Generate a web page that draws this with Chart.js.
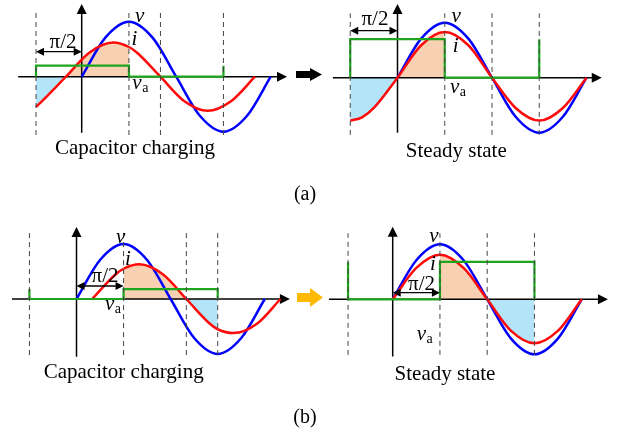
<!DOCTYPE html>
<html>
<head>
<meta charset="utf-8">
<script src="https://cdn.jsdelivr.net/npm/chart.js@4.4.0/dist/chart.umd.min.js"></script>
<style>
  body { margin: 0; background: #fff; }
  #fig { position: relative; width: 622px; height: 434px; overflow: hidden; }
  #fig canvas { position: absolute; }
  .cap { position: absolute; width: 40px; text-align: center; line-height: 21px;
         font: 20px "Liberation Serif", "Times New Roman", serif; color: #000; }
  .step { position: absolute; }
</style>
</head>
<body>
<div id="fig">
  <canvas id="p1"></canvas>
  <canvas id="p2"></canvas>
  <canvas id="p3"></canvas>
  <canvas id="p4"></canvas>
  <div class="step" style="left:296px;top:68px;width:26px;height:13px;background:#000;
       clip-path:polygon(0 3px,14px 3px,14px 0,26px 6.5px,14px 13px,14px 10px,0 10px);"></div>
  <div class="step" style="left:297px;top:288px;width:26px;height:19px;background:#ffb900;
       clip-path:polygon(0 5px,13px 5px,13px 0,26px 9.5px,13px 19px,13px 14px,0 14px);"></div>
  <div class="cap" style="left:285px;top:182px;">(a)</div>
  <div class="cap" style="left:285px;top:405px;">(b)</div>
</div>
<script>
// phase in degrees, amplitudes relative to the peak of v
const vPhase = [0, 45, 90, 135, 180, 225, 270, 315, 360];
const vVal = [0, 0.71, 1, 0.71, 0, -0.71, -1, -0.71, 0];

// (a) left: capacitor charging
const iPhase1 = [-87, -75, -30, 15, 60, 90, 105, 150, 195, 240, 285, 330];
const iVal1 = [-0.55, -0.44, 0, 0.44, 0.62, 0.54, 0.44, 0, -0.44, -0.62, -0.44, 0];
const vaPhase1 = [-87, -87, 90, 90, 270, 270];
const vaVal1 = [0, 0.2, 0.2, 0, 0, 0.2];
const marks1 = [-87, 90, 150, 270];

// (a) right: steady state
const iPhase2 = [-90, -67.5, -45, 0, 45, 90, 135, 180, 225, 270, 315, 360];
const iVal2 = [-0.78, -0.72, -0.55, 0, 0.59, 0.83, 0.59, 0, -0.55, -0.78, -0.55, 0];
const vaPhase2 = [-90, -90, 90, 90, 270, 270];
const vaVal2 = [0, 0.7, 0.7, 0, 0, 0.7];
const marks2 = [-90, 90, 180, 270];

// (b) left: capacitor charging
const iPhase3 = [30, 75, 90, 120, 165, 210, 255, 270, 300, 345, 390];
const iVal3 = [0, 0.45, 0.55, 0.63, 0.45, 0, -0.45, -0.55, -0.62, -0.45, 0];
const vaPhase3 = [-90, -90, 90, 90, 270, 270];
const vaVal3 = [0.18, 0, 0, 0.18, 0.18, 0];
const marks3 = [-90, 90, 210, 270];

// (b) right: steady state
const iPhase4 = [0, 45, 90, 135, 180, 225, 270, 315, 360];
const iVal4 = [0, 0.57, 0.81, 0.57, 0, -0.57, -0.8, -0.57, 0];
const vaPhase4 = [-85, -85, 90, 90, 270, 270];
const vaVal4 = [0.68, 0, 0, 0.68, 0.68, 0];
const marks4 = [-85, 90, 180, 270];

const BLUE = '#0000ff', RED = '#ff0a0a', GREEN = '#1ea51e';
const PEACH = 'rgb(248,208,178)', SKY = 'rgb(180,228,248)';
const SERIF = '"Liberation Serif", "Times New Roman", serif';

const panels = [
  { id: 'p1', left: 0, top: 0, width: 295, height: 170, ox: 81.7, oy: 76.7, kx: 0.525, ky: 55,
    iPhase: iPhase1, iVal: iVal1, vaPhase: vaPhase1, vaVal: vaVal1, marks: marks1,
    markSpan: [-1.06, 1.18], orange: [-30, 90], cyan: [-87, -30],
    xAxis: [-121, 391], yAxis: [-1.02, 1.32],
    halfPi: { from: -87, to: 0, y: 0.455, tx: -35.6, ty: 0.522 },
    vAt: [101.5, 1.0], iAt: [95, 0.576], vaAt: [96.4, -0.215],
    title: 'Capacitor charging', titleAt: [101.5, -1.405] },
  { id: 'p2', left: 295, top: 0, width: 327, height: 170, ox: 397.5, oy: 77.7, kx: 0.525, ky: 55,
    iPhase: iPhase2, iVal: iVal2, vaPhase: vaPhase2, vaVal: vaVal2, marks: marks2,
    markSpan: [-1.04, 1.17], orange: [0, 90], cyan: [-90, 0],
    xAxis: [-123, 389], yAxis: [-1.0, 1.34],
    halfPi: { from: -90, to: 0, y: 0.855, tx: -42.9, ty: 0.96 },
    vAt: [103, 1.02], iAt: [105, 0.47], vaAt: [100, -0.28],
    title: 'Steady state', titleAt: [112, -1.436] },
  { id: 'p3', left: 0, top: 215, width: 295, height: 180, ox: 76.5, oy: 299, kx: 0.523, ky: 55,
    iPhase: iPhase3, iVal: iVal3, vaPhase: vaPhase3, vaVal: vaVal3, marks: marks3,
    markSpan: [-1.02, 1.2], orange: [90, 210], cyan: [210, 270],
    xAxis: [-123.3, 408], yAxis: [-1.05, 1.31],
    halfPi: { from: 0, to: 90, y: 0.236, tx: 54.5, ty: 0.31 },
    vAt: [75.5, 1.02], iAt: [92.7, 0.62], vaAt: [54.5, -0.2],
    title: 'Capacitor charging', titleAt: [90.2, -1.44] },
  { id: 'p4', left: 295, top: 215, width: 327, height: 180, ox: 392.7, oy: 299.3, kx: 0.525, ky: 55,
    iPhase: iPhase4, iVal: iVal4, vaPhase: vaPhase4, vaVal: vaVal4, marks: marks4,
    markSpan: [-1.01, 1.2], orange: [90, 180], cyan: [180, 270],
    xAxis: [-121.3, 410], yAxis: [-1.04, 1.32],
    halfPi: { from: 0, to: 90, y: 0.12, tx: 55, ty: 0.17 },
    vAt: [69.7, 1.04], iAt: [71, 0.53], vaAt: [45.7, -0.74],
    title: 'Steady state', titleAt: [99.6, -1.467] }
];

function head(ctx, x, y, dx, dy, len, half) {
  ctx.beginPath();
  ctx.moveTo(x, y);
  ctx.lineTo(x - dx * len - dy * half, y - dy * len + dx * half);
  ctx.lineTo(x - dx * len + dy * half, y - dy * len - dx * half);
  ctx.closePath();
  ctx.fill();
}

function seg(ctx, x1, y1, x2, y2) {
  ctx.beginPath();
  ctx.moveTo(x1, y1);
  ctx.lineTo(x2, y2);
  ctx.stroke();
}

// axes with arrow heads, labels and the pi/2 marker
function makeSketch(p) {
  return {
    id: 'sketch',
    beforeDatasetsDraw(chart) {
      const { ctx, scales: { x, y } } = chart;
      const x0 = x.getPixelForValue(0), y0 = y.getPixelForValue(0);
      const xl = x.getPixelForValue(p.xAxis[0]), xr = x.getPixelForValue(p.xAxis[1]);
      const yb = y.getPixelForValue(p.yAxis[0]), yt = y.getPixelForValue(p.yAxis[1]);
      ctx.save();
      ctx.strokeStyle = '#000';
      ctx.fillStyle = '#000';
      ctx.lineWidth = 1.5;
      seg(ctx, xl, y0, xr - 6, y0);
      head(ctx, xr, y0, 1, 0, 10, 5);
      seg(ctx, x0, yb, x0, yt + 6);
      head(ctx, x0, yt, 0, -1, 10, 5);
      ctx.restore();
    },
    afterDatasetsDraw(chart) {
      const { ctx, scales: { x, y } } = chart;
      const px = v => x.getPixelForValue(v), py = v => y.getPixelForValue(v);
      ctx.save();
      ctx.fillStyle = '#000';
      ctx.strokeStyle = '#000';
      ctx.lineWidth = 1.3;

      const h = p.halfPi;
      const ha = px(h.from), hb = px(h.to), hy = py(h.y);
      seg(ctx, ha + 4, hy, hb - 4, hy);
      head(ctx, ha, hy, -1, 0, 8, 4);
      head(ctx, hb, hy, 1, 0, 8, 4);

      ctx.textBaseline = 'alphabetic';
      ctx.textAlign = 'center';
      ctx.font = '21px ' + SERIF;
      ctx.fillText('\u03c0/2', px(h.tx), py(h.ty));
      ctx.fillText(p.title, px(p.titleAt[0]), py(p.titleAt[1]));

      ctx.textAlign = 'left';
      ctx.font = 'italic 21px ' + SERIF;
      ctx.fillText('v', px(p.vAt[0]), py(p.vAt[1]));
      ctx.fillText('i', px(p.iAt[0]), py(p.iAt[1]));
      const vx = px(p.vaAt[0]), vy = py(p.vaAt[1]);
      ctx.fillText('v', vx, vy);
      const w = ctx.measureText('v').width;
      ctx.font = '14px ' + SERIF;
      ctx.fillText('a', vx + w + 0.5, vy + 3);
      ctx.restore();
    }
  };
}

const pts = (xs, ys) => xs.map((v, k) => ({ x: v, y: ys[k] }));

panels.forEach(p => {
  const cv = document.getElementById(p.id);
  cv.width = p.width;
  cv.height = p.height;
  cv.style.left = p.left + 'px';
  cv.style.top = p.top + 'px';

  const lox = p.ox - p.left, loy = p.oy - p.top;
  const marks = [];
  p.marks.forEach(m => {
    marks.push({ x: m, y: p.markSpan[0] }, { x: m, y: p.markSpan[1] }, { x: m, y: null });
  });

  new Chart(cv, {
    type: 'line',
    data: {
      datasets: [
        { label: 'v', data: pts(vPhase, vVal), borderColor: BLUE, borderWidth: 2.5,
          cubicInterpolationMode: 'monotone', fill: false, order: 3 },
        { label: 'i', data: pts(p.iPhase, p.iVal), borderColor: RED, borderWidth: 2.5,
          cubicInterpolationMode: 'monotone', fill: 'origin', backgroundColor: 'rgba(0,0,0,0)',
          order: 2,
          segment: {
            backgroundColor: c => {
              const m = (c.p0.parsed.x + c.p1.parsed.x) / 2;
              if (m > p.orange[0] && m < p.orange[1]) return PEACH;
              if (m > p.cyan[0] && m < p.cyan[1]) return SKY;
              return 'rgba(0,0,0,0)';
            }
          } },
        { label: 'va', data: pts(p.vaPhase, p.vaVal), borderColor: GREEN, borderWidth: 2.2,
          tension: 0, fill: false, order: 1 },
        { label: 'marks', data: marks, borderColor: '#444', borderWidth: 1,
          borderDash: [5, 4], tension: 0, fill: false, spanGaps: false, order: 0 }
      ]
    },
    options: {
      responsive: false,
      animation: false,
      devicePixelRatio: 1,
      layout: { padding: 0 },
      elements: { point: { radius: 0, hoverRadius: 0 } },
      events: [],
      scales: {
        x: { type: 'linear', display: false, bounds: 'data',
             min: -lox / p.kx, max: (p.width - lox) / p.kx },
        y: { type: 'linear', display: false, bounds: 'data',
             min: -(p.height - loy) / p.ky, max: loy / p.ky }
      },
      plugins: {
        legend: { display: false },
        tooltip: { enabled: false },
        filler: { drawTime: 'beforeDatasetsDraw' }
      }
    },
    plugins: [makeSketch(p)]
  });
});
</script>
</body>
</html>
